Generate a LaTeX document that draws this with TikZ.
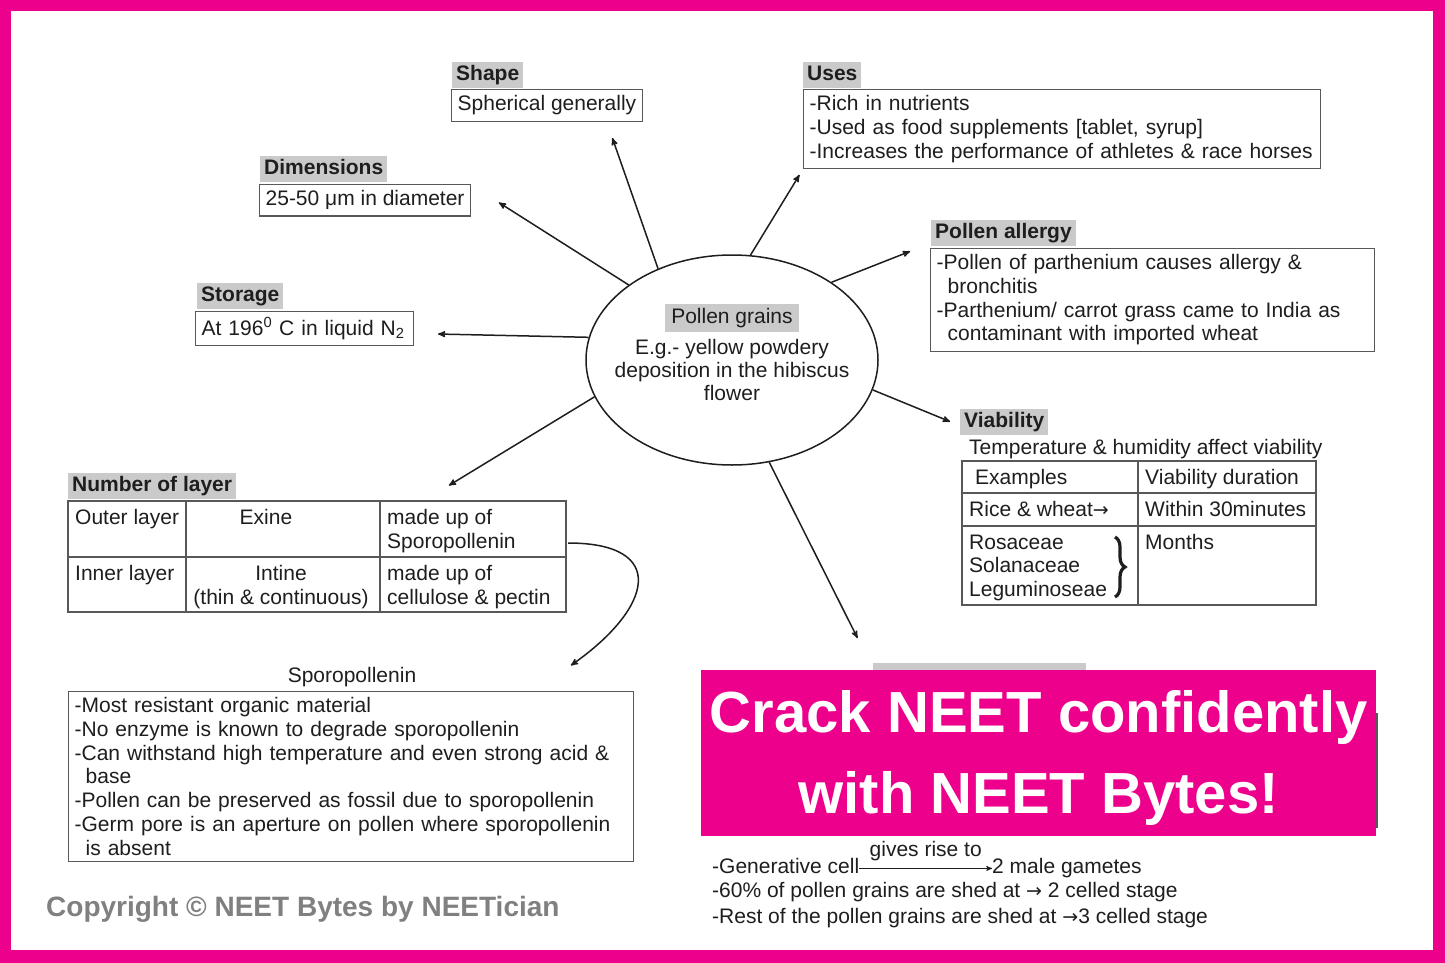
\documentclass[tikz,border=0pt]{standalone}
\usepackage{fontspec}
\setmainfont{Liberation Sans}
\newfontfamily\arrowfont{DejaVu Sans}
\usetikzlibrary{arrows,positioning,shapes.geometric,decorations.pathreplacing}

\definecolor{neetpink}{HTML}{EC008C}
\definecolor{tagfill}{HTML}{CACACA}
\definecolor{boxline}{HTML}{585858}
\definecolor{ink}{HTML}{1E1E1E}
\definecolor{copygray}{HTML}{808080}

\newcommand{\rarr}{{\arrowfont\fontsize{19}{23}\selectfont →}}

\begin{document}
\begin{tikzpicture}[x=1pt,y=1pt,>=stealth',
  every node/.style={font=\fontsize{21}{23.7}\selectfont,text=ink,inner sep=0pt},
  tag/.style={fill=tagfill,font=\fontsize{21}{24}\selectfont\bfseries,inner xsep=4pt,
    inner ysep=3pt,text height=15pt,text depth=4.5pt},
  infobox/.style={draw=boxline,line width=1.3pt,inner xsep=6pt,inner ysep=6pt,
    align=left,anchor=north west},
  cell/.style={anchor=north west,align=left},
  tabline/.style={draw=boxline,line width=1.3pt},
  link/.style={->,draw=ink,line width=1.5pt,shorten >=1pt}]

  \useasboundingbox (0,0) rectangle (1445,-963);
  \fill[neetpink] (0,0) rectangle (1445,-963);
  \fill[white] (11,-11) rectangle (1433,-950);

  \node[ellipse,draw=ink,line width=1.5pt,minimum width=292pt,minimum height=210pt] (pollen) at (732,-360) {};
  \node[tag,font=\fontsize{21}{24}\selectfont,inner xsep=6pt,inner ysep=4.5pt] (pollentag) at (732,-318) {Pollen grains};
  \node[below=7pt of pollentag,align=center,font=\fontsize{21}{23}\selectfont] (pollentext)
    {E.g.- yellow powdery\\deposition in the hibiscus\\flower};

  \node[infobox] (shape) at (451,-89) {Spherical generally};
  \node[tag,above right=1pt and 1pt of shape.north west] (shapetag) {Shape};

  \node[infobox,text width=505pt] (uses) at (803,-89)
    {-Rich in nutrients\\-Used as food supplements [tablet, syrup]\\-Increases the performance of athletes \& race horses};
  \node[tag,above right=1pt and 0pt of uses.north west] (usestag) {Uses};

  \node[infobox] (dims) at (259,-184) {25-50 μm in diameter};
  \node[tag,above right=2pt and 1pt of dims.north west] (dimstag) {Dimensions};

  \node[infobox,text width=206pt] (store) at (195,-311) {At 196\textsuperscript{0} C in liquid N\textsubscript{2}};
  \node[tag,above right=2pt and 2pt of store.north west] (storetag) {Storage};

  \node[infobox,text width=432pt] (allergy) at (930,-248)
    {-Pollen of parthenium causes allergy \&\\\hspace*{11pt}bronchitis\\-Parthenium/ carrot grass came to India as\\\hspace*{11pt}contaminant with imported wheat};
  \node[tag,above right=2pt and 1pt of allergy.north west] (allergytag) {Pollen allergy};

  \coordinate (shapetip) at (612,-137);
  \coordinate (usestip) at (800,-174);
  \coordinate (dimstip) at (498,-202);
  \coordinate (allergytip) at (911,-251);
  \coordinate (storetip) at (437,-334);
  \coordinate (viabtip) at (951,-422);
  \coordinate (layertip) at (448,-486);
  \coordinate (cellstip) at (858,-639);

  \draw[link] (pollen.129) -- (shapetip);
  \draw[link] (pollen.80) -- (usestip);
  \draw[link] (pollen.144.5) -- (dimstip);
  \draw[link] (pollen.38.3) -- (allergytip);
  \draw[link] (pollen.171) -- (storetip);
  \draw[link] (pollen.-12.9) -- (viabtip);
  \draw[link] (pollen.195.6) -- (layertip);
  \draw[link] (pollen.-70.4) -- (cellstip);

  \node[tag,anchor=south west] (viabtag) at (960,-435) {Viability};
  \node[cell] (viabnote) at (969,-439.5) {Temperature \& humidity affect viability};
  \draw[tabline] (962,-461) rectangle (1316,-605);
  \draw[tabline] (1138,-461) -- (1138,-605) (962,-493) -- (1316,-493) (962,-526) -- (1316,-526);
  \node[cell] (exhead) at (975,-469.5) {Examples};
  \node[cell] (durhead) at (1145,-469.5) {Viability duration};
  \node[cell] (rice) at (969,-501.5) {Rice \& wheat\rarr};
  \node[cell] (ricedur) at (1145,-501.5) {Within 30minutes};
  \node[cell,font=\fontsize{21}{23.5}\selectfont] (families) at (969,-534.5) {Rosaceae\\Solanaceae\\Leguminoseae};
  \node[cell] (famdur) at (1145,-534.5) {Months};
  \draw[decorate,decoration={brace,amplitude=10pt},line width=3.2pt,draw=ink] (1115,-537) -- (1115,-597);

  \node[tag,anchor=south west] (layertag) at (68,-499) {Number of layer};
  \draw[tabline] (68,-501) rectangle (566,-612);
  \draw[tabline] (186,-501) -- (186,-612) (380,-501) -- (380,-612) (68,-557) -- (566,-557);
  \node[cell] (outer) at (75,-509.5) {Outer layer};
  \node[cell,anchor=north] (exine) at (266,-509.5) {Exine};
  \node[cell] (outermade) at (387,-509.5) {made up of\\Sporopollenin};
  \node[cell] (inner) at (75,-565.5) {Inner layer};
  \node[cell,anchor=north,align=center] (intine) at (281,-565.5) {Intine\\(thin \& continuous)};
  \node[cell] (innermade) at (387,-565.5) {made up of\\cellulose \& pectin};

  \coordinate (sporoout) at (568,-543);
  \coordinate (sporoin) at (570,-666);
  \draw[link] (sporoout) to[out=0,in=35,looseness=2.1] (sporoin);

  \node (sporotitle) at (352,-677) {Sporopollenin};
  \node[infobox,text width=553pt] (sporo) at (68,-691)
    {-Most resistant organic material\\-No enzyme is known to degrade sporopollenin\\-Can withstand high temperature and even strong acid \&\\\hspace*{11pt}base\\-Pollen can be preserved as fossil due to sporopollenin\\-Germ pore is an aperture on pollen where sporopollenin\\\hspace*{11pt}is absent};

  \fill[tagfill] (873,-663) rectangle (1086,-700);
  \draw[tabline] (760,-714) rectangle (1377,-827) (760,-747) -- (1377,-747);
  \node[fill=neetpink,minimum width=675pt,minimum height=166pt,anchor=north west] (banner) at (701,-670) {};
  \node[text=white,font=\fontsize{58}{81}\selectfont\bfseries,align=center] (slogan) at ([yshift=-5pt]banner.center)
    {Crack NEET confidently\\with NEET Bytes!};

  \node[cell,text height=15pt,text depth=4.5pt] (gencell) at (712,-858.5) {-Generative cell};
  \node[cell,text height=15pt,text depth=4.5pt] (gametes) at (992,-858.5) {2 male gametes};
  \draw[->,draw=ink,line width=1pt] (gencell) -- node[above=7pt] (rise) {gives rise to} (gametes);
  \node[cell] (shed2) at (712,-882.5) {-60\% of pollen grains are shed at \rarr{} 2 celled stage};
  \node[cell] (shed3) at (712,-908.5) {-Rest of the pollen grains are shed at \rarr3 celled stage};

  \node[anchor=west,text=copygray,font=\fontsize{28}{32}\selectfont\bfseries] (copyright) at (46,-909)
    {Copyright © NEET Bytes by NEETician};

\end{tikzpicture}
\end{document}
